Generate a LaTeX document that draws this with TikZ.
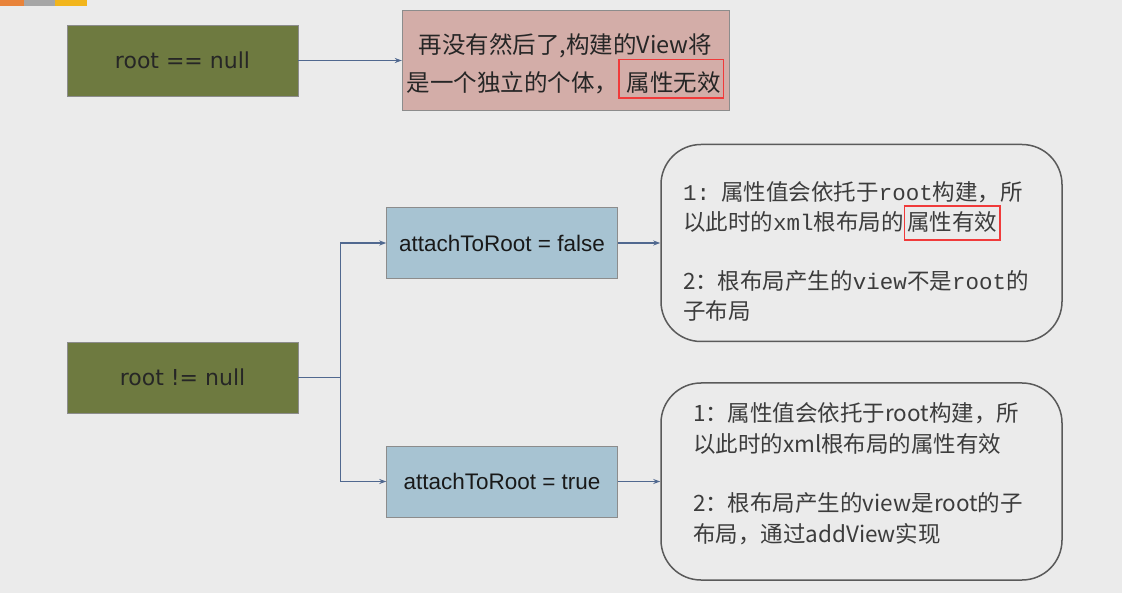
\documentclass[tikz,border=0pt]{standalone}
\usepackage{fontspec}
\setmainfont{Liberation Sans}
\newfontfamily\cjk{Noto Sans CJK SC}
\newfontfamily\wide{DejaVu Sans}
\newfontfamily\monoface{Liberation Mono}
\usetikzlibrary{arrows.meta}

\definecolor{bg}{HTML}{EBEBEB}
\definecolor{olivebox}{HTML}{6E7A40}
\definecolor{pinkbox}{HTML}{D3ADA8}
\definecolor{bluebox}{HTML}{A7C3D2}
\definecolor{boxline}{HTML}{8C8C8C}
\definecolor{noteline}{HTML}{5A5A5A}
\definecolor{linkblue}{HTML}{50688F}
\definecolor{notetext}{HTML}{3C3C3C}
\definecolor{barorange}{HTML}{E8833A}
\definecolor{bargray}{HTML}{A6A6A6}
\definecolor{baryellow}{HTML}{F2B51C}
\definecolor{framered}{HTML}{F03A3A}

\newcommand\mono[1]{{\monoface #1}}
% red frame: height above baseline, depth, left pad, text
\newcommand\redframe[4]{{\colorlet{framedtext}{.}\setlength\fboxrule{1.6pt}\setlength\fboxsep{2pt}%
  \color{framered}\fbox{\hspace{#3}\rule[-#2]{0pt}{\dimexpr#1+#2\relax}\color{framedtext}#4}}}

\begin{document}
\begin{tikzpicture}[x=1pt,y=-1pt,
      flow box/.style ={draw=boxline,fill=#1,minimum width=231pt,minimum height=71pt,inner sep=0pt},
      flow box/.default=olivebox,
      note box/.style ={draw=noteline,line width=1.5pt,rounded corners=40pt,
        minimum width=401pt,minimum height=197pt,inner sep=0pt,align=left,
        text=notetext,font=\cjk\fontsize{22.5}{#1}\selectfont},
      note box/.default=30,
      link/.style ={draw=linkblue,line width=1.3pt,-{Stealth[length=7pt,width=5pt]}}]
    \fill[bg] (0,0) rectangle (1122,593);
    \useasboundingbox (0,0) rectangle (1122,593);
    \fill[barorange] (0,0) rectangle (24,6);
    \fill[bargray] (24,0) rectangle (55,6);
    \fill[baryellow] (55,0) rectangle (87,6);
    % top row
    \node[flow box,font=\wide\fontsize{22}{26}\selectfont,text=black!85] (isnull) at (182.5,60.5) {root == null};
    \node[flow box=pinkbox,minimum width=327pt,minimum height=100pt,align=center,
      text=black!85,font=\cjk\fontsize{23.5}{37}\selectfont] (nolink) at (565.5,60)
      {\rule{0pt}{32pt}再没有然后了,构建的View将\\是一个独立的个体，\redframe{29pt}{4pt}{5pt}{属性无效}};
    \draw[link] (isnull.east) -- (isnull.east -| nolink.west);
    % bottom tree
    \node[flow box,font=\wide\fontsize{22}{26}\selectfont,text=black!85] (notnull) at (182.5,377.5) {root != null};
    \node[flow box=bluebox,font=\fontsize{22.5}{26}\selectfont,text=black!90] (nottached) at (502,243) {attachToRoot = false};
    \node[flow box=bluebox,font=\fontsize{22.5}{26}\selectfont,text=black!90] (attached) at (502,481.5) {attachToRoot = true};
    \draw[link] (notnull.east) -- ++(42,0) |- (nottached.west);
    \draw[link] (notnull.east) -- ++(42,0) |- (attached.west);
    \node[note box,text width=357pt] (falsenote) at (861.5,243)
      {\rule{0pt}{35pt}\mono{1: }属性值会依托于\mono{root}构建，所\\
       以此时的\mono{xml}根布局的\redframe{21pt}{7pt}{0pt}{属性有效}\\[29pt]
       2：根布局产生的\mono{view}不是\mono{root}的\\
       子布局};
    \node[note box=31,text width=337pt] (truenote) at (861.5,481.5)
      {1：属性值会依托于root构建，所\\
       以此时的xml根布局的属性有效\\[28pt]
       2：根布局产生的view是root的子\\
       布局，通过addView实现\rule[-17pt]{0pt}{1pt}};
    \draw[link] (nottached.east) -- (falsenote.west);
    \draw[link] (attached.east) -- (truenote.west);
\end{tikzpicture}
\end{document}
